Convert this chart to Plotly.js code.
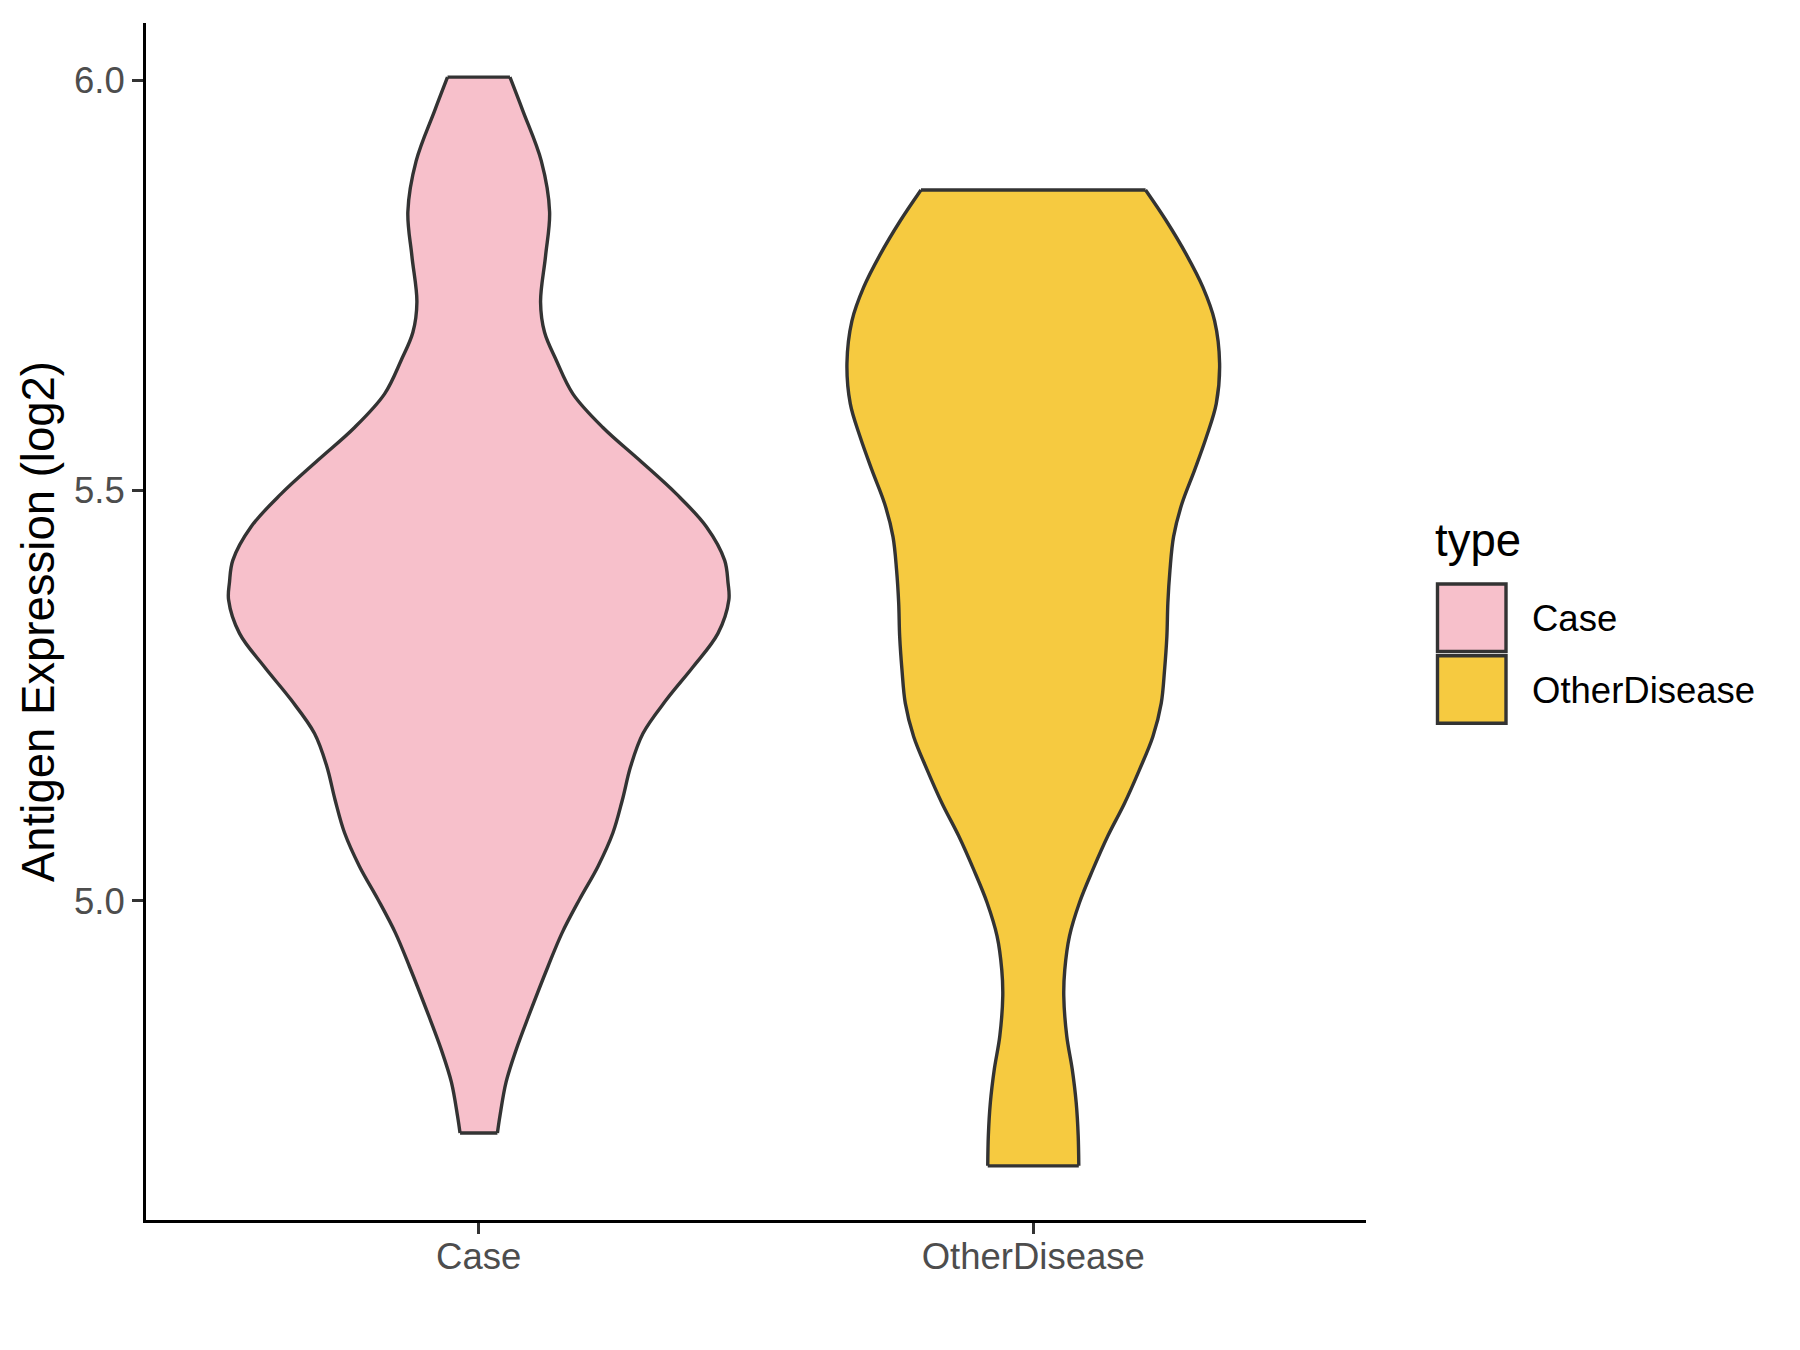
<!DOCTYPE html>
<html>
<head>
<meta charset="utf-8">
<script src="https://cdn.plot.ly/plotly-3.0.1.min.js"></script>
<style>html,body{margin:0;padding:0;background:#fff;}#chart{width:1800px;height:1350px;}</style>
</head>
<body>
<div id="chart"></div>
<script>
// ---- Data (violin outlines: value level, half-width in category units) ----
const categories = ["Case", "OtherDisease"];
const categoryPos = [1, 2];
const fillColors = ["#F7C0CB", "#F6CA40"];

const caseY = [4.717, 4.738, 4.779, 4.819, 4.860, 4.920, 4.961, 5.002, 5.042, 5.083, 5.123, 5.164, 5.204, 5.245, 5.285, 5.326, 5.367, 5.388, 5.415, 5.456, 5.496, 5.537, 5.577, 5.618, 5.659, 5.693, 5.730, 5.786, 5.840, 5.902, 5.963, 6.004];
const caseHalfWidth = [0.0337, 0.0383, 0.0493, 0.0677, 0.0902, 0.1249, 0.1503, 0.1819, 0.2150, 0.2420, 0.2590, 0.2740, 0.2961, 0.3383, 0.3863, 0.4314, 0.4511, 0.4495, 0.4435, 0.4105, 0.3564, 0.2902, 0.2239, 0.1698, 0.1398, 0.1187, 0.1115, 0.1205, 0.1278, 0.1128, 0.0796, 0.0563];

const otherY = [4.677, 4.714, 4.754, 4.795, 4.835, 4.884, 4.916, 4.957, 4.998, 5.038, 5.079, 5.119, 5.160, 5.200, 5.241, 5.281, 5.322, 5.363, 5.403, 5.444, 5.484, 5.525, 5.565, 5.606, 5.655, 5.707, 5.748, 5.788, 5.829, 5.8665];
const otherHalfWidth = [0.0821, 0.0810, 0.0774, 0.0702, 0.0604, 0.0550, 0.0568, 0.0653, 0.0834, 0.1074, 0.1344, 0.1646, 0.1916, 0.2156, 0.2308, 0.2367, 0.2409, 0.2427, 0.2465, 0.2530, 0.2680, 0.2909, 0.3120, 0.3300, 0.3360, 0.3270, 0.3058, 0.2759, 0.2398, 0.2025];

const yTickVals = [5.0, 5.5, 6.0];
const yTickText = ["5.0", "5.5", "6.0"];
const yTitle = "Antigen Expression (log2)";
const legendTitle = "type";

// ---- Build violins: left side, right side (filled to left), flat ends ----
const OUTLINE = "#333333", LW = 3.4;
function violinTraces(pos, ys, ws, color) {
  const left = {
    type: "scatter", mode: "lines",
    x: ys.map((_, i) => pos - ws[i]), y: ys,
    line: {color: OUTLINE, width: LW, shape: "spline", smoothing: 1},
    hoverinfo: "skip", showlegend: false
  };
  const right = {
    type: "scatter", mode: "lines",
    x: ys.map((_, i) => pos + ws[i]), y: ys,
    fill: "tonextx", fillcolor: color,
    line: {color: OUTLINE, width: LW, shape: "spline", smoothing: 1},
    hoverinfo: "skip", showlegend: false
  };
  const n = ys.length - 1;
  const ends = {
    type: "scatter", mode: "lines",
    x: [pos - ws[0], pos + ws[0], null, pos - ws[n], pos + ws[n]],
    y: [ys[0], ys[0], null, ys[n], ys[n]],
    line: {color: OUTLINE, width: LW},
    hoverinfo: "skip", showlegend: false
  };
  return [left, right, ends];
}

const traces = [
  ...violinTraces(categoryPos[0], caseY, caseHalfWidth, fillColors[0]),
  ...violinTraces(categoryPos[1], otherY, otherHalfWidth, fillColors[1])
];

// ---- Layout ----
const W = 1800, H = 1350;
const mL = 146, mR = 434, mT = 23, mB = 130;
const plotW = W - mL - mR, plotH = H - mT - mB;
const px = v => (v - mL) / plotW;          // pixel x -> paper x
const py = v => (H - mB - v) / plotH;      // pixel y -> paper y

const font = "Liberation Sans, Arial, sans-serif";

const shapes = [];
const annotations = [];
const keyTops = [584, 655.7];
categories.forEach((c, i) => {
  const top = keyTops[i];
  shapes.push({type: "rect", xref: "paper", yref: "paper",
    x0: px(1437.5), x1: px(1506), y0: py(top + 67.5), y1: py(top),
    line: {color: OUTLINE, width: LW}, fillcolor: fillColors[i]});
  annotations.push({xref: "paper", yref: "paper", x: px(1530), y: py(top + 34.5),
    xanchor: "left", yanchor: "middle", text: c, showarrow: false,
    font: {family: font, size: 36.5, color: "#000000"}});
});
annotations.push({xref: "paper", yref: "paper", x: px(1433), y: py(540),
  xanchor: "left", yanchor: "middle", text: legendTitle, showarrow: false,
  font: {family: font, size: 45.5, color: "#000000"}});

const layout = {
  width: W, height: H,
  margin: {l: mL, r: mR, t: mT, b: mB, pad: 0},
  paper_bgcolor: "#ffffff", plot_bgcolor: "#ffffff",
  showlegend: false,
  hovermode: false,
  font: {family: font},
  xaxis: {
    range: [0.4, 2.6], tickvals: categoryPos, ticktext: categories,
    showgrid: false, zeroline: false,
    showline: true, linecolor: "#000000", linewidth: 3,
    ticks: "outside", ticklen: 11, tickwidth: 3, tickcolor: "#333333",
    ticklabelstandoff: -9,
    tickfont: {family: font, size: 36.5, color: "#4D4D4D"}
  },
  yaxis: {
    range: [4.611, 6.070], tickvals: yTickVals, ticktext: yTickText,
    showgrid: false, zeroline: false,
    showline: true, linecolor: "#000000", linewidth: 3,
    ticks: "outside", ticklen: 11, tickwidth: 3, tickcolor: "#333333",
    tickfont: {family: font, size: 36.5, color: "#4D4D4D"},
    title: {text: yTitle, font: {family: font, size: 45.5, color: "#000000"}, standoff: 6}
  },
  shapes: shapes,
  annotations: annotations
};

Plotly.newPlot("chart", traces, layout, {staticPlot: true, displayModeBar: false});
</script>
</body>
</html>
